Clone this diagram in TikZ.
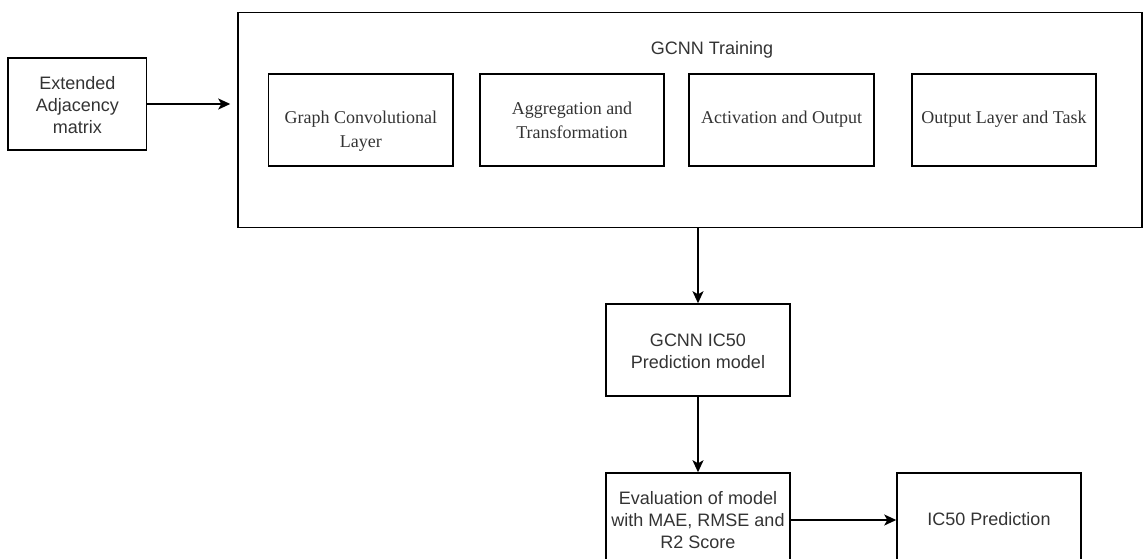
\documentclass[tikz,border=0pt]{standalone}
\usepackage{fontspec}
\setmainfont{Liberation Serif}
\setsansfont{Liberation Sans}
\usetikzlibrary{arrows.meta}
\definecolor{txt}{HTML}{333333}
\begin{document}
\begin{tikzpicture}[x=1pt,y=-1pt,
  box/.style={draw, line width=1.5pt, rectangle, inner sep=0pt},
  sanstxt/.style={font=\sffamily\fontsize{18}{22}\selectfont, text=txt, align=center, inner sep=0pt},
  seriftxt/.style={font=\rmfamily\fontsize{18}{24}\selectfont, text=txt, align=center, inner sep=0pt},
  arr/.style={-{Stealth[length=12pt,width=11pt,inset=3pt]}, line width=1.5pt}]
\useasboundingbox (0,0) rectangle (1143,559);
\clip (0,0) rectangle (1143,559);
% input
\node[box, minimum width=138.7pt, minimum height=92pt] (ext) at (77.35,104) {};
\node[sanstxt] (extt) at (77.35,105) {Extended\\Adjacency\\matrix};
% training container
\node[box, minimum width=904pt, minimum height=215pt] (big) at (690,120.2) {};
\node[sanstxt] (bigt) at (712,50) {GCNN Training};
\node[box, minimum width=184.3pt, minimum height=92pt] (gcl) at (360.85,120) {};
\node[seriftxt] (gclt) at (360.85,131) {Graph Convolutional\\Layer};
\node[box, minimum width=184pt, minimum height=92pt] (agg) at (572,120) {};
\node[seriftxt] (aggt) at (572,120) {Aggregation and\\Transformation};
\node[box, minimum width=185pt, minimum height=92pt] (act) at (781.5,120) {};
\node[seriftxt] (actt) at (781.5,119) {Activation and Output};
\node[box, minimum width=184pt, minimum height=92pt] (out) at (1004,120) {};
\node[seriftxt] (outt) at (1004,119) {Output Layer and Task};
% model
\node[box, minimum width=184pt, minimum height=92pt] (model) at (698,350) {};
\node[sanstxt] (modelt) at (698,351) {GCNN IC50\\Prediction model};
% evaluation
\node[box, minimum width=184pt, minimum height=100pt] (eval) at (698,523) {};
\node[sanstxt] (evalt) at (698,520) {Evaluation of model\\with MAE, RMSE and\\R2 Score};
\node[box, minimum width=184pt, minimum height=100pt] (pred) at (989,523) {};
\node[sanstxt] (predt) at (989,519) {IC50 Prediction};
% connectors
\draw[arr, shorten >=7pt] (ext.east) -- (ext.east -| big.west);
\draw[arr] (big.south -| model.north) -- (model.north);
\draw[arr] (model.south) -- (eval.north);
\draw[arr] (eval.east |- evalt) -- (pred.west |- evalt);
\end{tikzpicture}
\end{document}
